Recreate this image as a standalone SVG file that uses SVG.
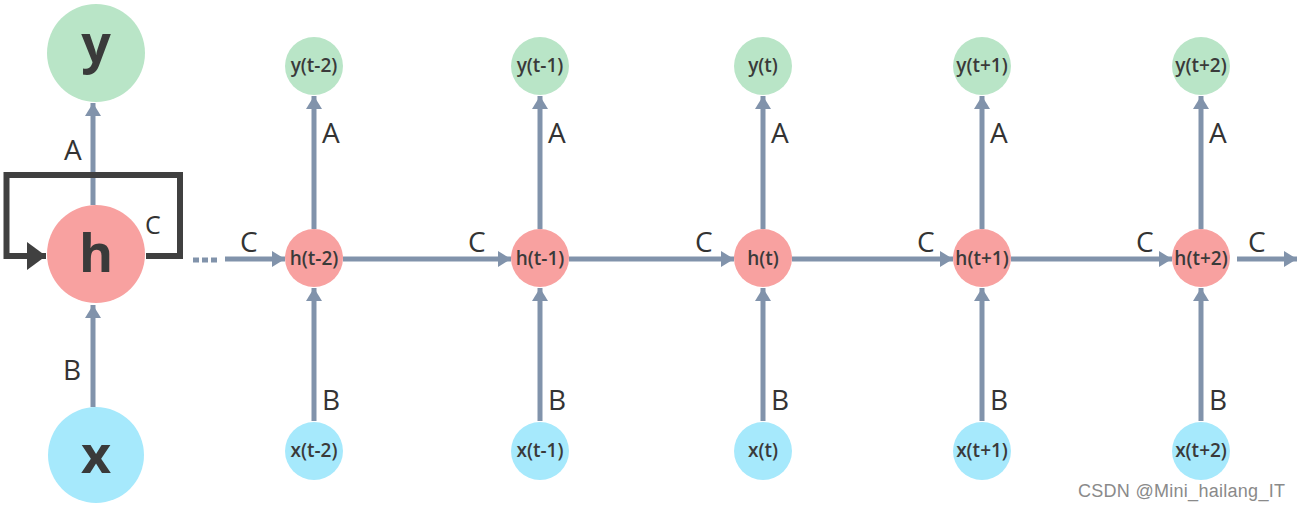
<svg xmlns="http://www.w3.org/2000/svg" width="1301" height="511" viewBox="0 0 1301 511">
<style>
.g{fill:#b9e5c7}.h{fill:#f8a1a0}.x{fill:#a6e9fc}
.lbl{font-family:"Open Sans","Noto Sans",sans-serif;font-size:19px;font-weight:600;fill:#3a3a3a;text-anchor:middle}
.big{font-family:"Open Sans","Noto Sans",sans-serif;font-size:52px;font-weight:bold;fill:#3a3a3a;text-anchor:middle}
.w{font-family:"Open Sans","Noto Sans",sans-serif;font-size:28px;fill:#333}
.e{stroke:#8193ab;stroke-width:5;fill:none}
</style>
<defs>
<marker id="ah" markerUnits="userSpaceOnUse" markerWidth="14" markerHeight="16" refX="13" refY="8" orient="auto"><path d="M0,0 L13,8 L0,16 z" fill="#8193ab"/></marker>
<marker id="dk" markerUnits="userSpaceOnUse" markerWidth="20" markerHeight="28" refX="19" refY="14" orient="auto"><path d="M0,0 L19,14 L0,28 z" fill="#404040"/></marker>
</defs>
<rect width="1301" height="511" fill="#ffffff"/>
<g id="connectors">
<line class="e" x1="93" y1="205" x2="93" y2="103" marker-end="url(#ah)"/>
<line class="e" x1="93" y1="407" x2="93" y2="305" marker-end="url(#ah)"/>
<path d="M146,256 H180 V175 H6.5 V256 H46" fill="none" stroke="#404040" stroke-width="6" marker-end="url(#dk)"/>
<line x1="193" y1="260" x2="218" y2="260" stroke="#8193ab" stroke-width="5" stroke-dasharray="6 3"/>
<line class="e" x1="225" y1="259" x2="285" y2="259" marker-end="url(#ah)"/>
<line class="e" x1="343" y1="259" x2="511" y2="259" marker-end="url(#ah)"/>
<line class="e" x1="569" y1="259" x2="734" y2="259" marker-end="url(#ah)"/>
<line class="e" x1="792" y1="259" x2="953" y2="259" marker-end="url(#ah)"/>
<line class="e" x1="1011" y1="259" x2="1172" y2="259" marker-end="url(#ah)"/>
<line class="e" x1="1237" y1="259" x2="1297" y2="259" marker-end="url(#ah)"/>
<line class="e" x1="314" y1="229" x2="314" y2="96" marker-end="url(#ah)"/>
<line class="e" x1="314" y1="421" x2="314" y2="288" marker-end="url(#ah)"/>
<line class="e" x1="540" y1="229" x2="540" y2="96" marker-end="url(#ah)"/>
<line class="e" x1="540" y1="421" x2="540" y2="288" marker-end="url(#ah)"/>
<line class="e" x1="763" y1="229" x2="763" y2="96" marker-end="url(#ah)"/>
<line class="e" x1="763" y1="421" x2="763" y2="288" marker-end="url(#ah)"/>
<line class="e" x1="982" y1="229" x2="982" y2="96" marker-end="url(#ah)"/>
<line class="e" x1="982" y1="421" x2="982" y2="288" marker-end="url(#ah)"/>
<line class="e" x1="1201" y1="229" x2="1201" y2="96" marker-end="url(#ah)"/>
<line class="e" x1="1201" y1="421" x2="1201" y2="288" marker-end="url(#ah)"/>
<text class="w" x="64" y="160">A</text>
<text class="w" x="63" y="380">B</text>
<text class="w" x="145" y="234" style="font-size:25px">C</text>
<text class="w" x="322" y="143">A</text><text class="w" x="322" y="410">B</text>
<text class="w" x="548" y="143">A</text><text class="w" x="548" y="410">B</text>
<text class="w" x="771" y="143">A</text><text class="w" x="771" y="410">B</text>
<text class="w" x="990" y="143">A</text><text class="w" x="990" y="410">B</text>
<text class="w" x="1209" y="143">A</text><text class="w" x="1209" y="410">B</text>
<text class="w" x="240" y="252">C</text>
<text class="w" x="468" y="252">C</text>
<text class="w" x="695" y="252">C</text>
<text class="w" x="917" y="252">C</text>
<text class="w" x="1136" y="252">C</text>
<text class="w" x="1248" y="252">C</text>
</g>
<g id="y"><circle class="g" cx="96" cy="53" r="49"/><text class="big" x="96" y="62">y</text></g>
<g id="h"><circle class="h" cx="96" cy="254" r="49"/><text class="big" x="96" y="272">h</text></g>
<g id="x"><circle class="x" cx="96" cy="455" r="48"/><text class="big" x="96" y="473">x</text></g>
<g id="y_t-2"><circle class="g" cx="314" cy="66" r="29"/><text class="lbl" x="314" y="72">y(t-2)</text></g>
<g id="h_t-2"><circle class="h" cx="314" cy="258" r="29"/><text class="lbl" x="314" y="265">h(t-2)</text></g>
<g id="x_t-2"><circle class="x" cx="314" cy="451" r="29"/><text class="lbl" x="314" y="457">x(t-2)</text></g>
<g id="y_t-1"><circle class="g" cx="540" cy="66" r="29"/><text class="lbl" x="540" y="72">y(t-1)</text></g>
<g id="h_t-1"><circle class="h" cx="540" cy="258" r="29"/><text class="lbl" x="540" y="265">h(t-1)</text></g>
<g id="x_t-1"><circle class="x" cx="540" cy="451" r="29"/><text class="lbl" x="540" y="457">x(t-1)</text></g>
<g id="y_t"><circle class="g" cx="763" cy="66" r="29"/><text class="lbl" x="763" y="72">y(t)</text></g>
<g id="h_t"><circle class="h" cx="763" cy="258" r="29"/><text class="lbl" x="763" y="265">h(t)</text></g>
<g id="x_t"><circle class="x" cx="763" cy="451" r="29"/><text class="lbl" x="763" y="457">x(t)</text></g>
<g id="y_t+1"><circle class="g" cx="982" cy="66" r="29"/><text class="lbl" x="982" y="72">y(t+1)</text></g>
<g id="h_t+1"><circle class="h" cx="982" cy="258" r="29"/><text class="lbl" x="982" y="265">h(t+1)</text></g>
<g id="x_t+1"><circle class="x" cx="982" cy="451" r="29"/><text class="lbl" x="982" y="457">x(t+1)</text></g>
<g id="y_t+2"><circle class="g" cx="1201" cy="66" r="29"/><text class="lbl" x="1201" y="72">y(t+2)</text></g>
<g id="h_t+2"><circle class="h" cx="1201" cy="258" r="29"/><text class="lbl" x="1201" y="265">h(t+2)</text></g>
<g id="x_t+2"><circle class="x" cx="1201" cy="451" r="29"/><text class="lbl" x="1201" y="457">x(t+2)</text></g>
<text x="1078" y="497" font-family="Liberation Sans, Arial, sans-serif" font-size="18" fill="#8a8a8a" textLength="207">CSDN @Mini_hailang_IT</text>
</svg>
